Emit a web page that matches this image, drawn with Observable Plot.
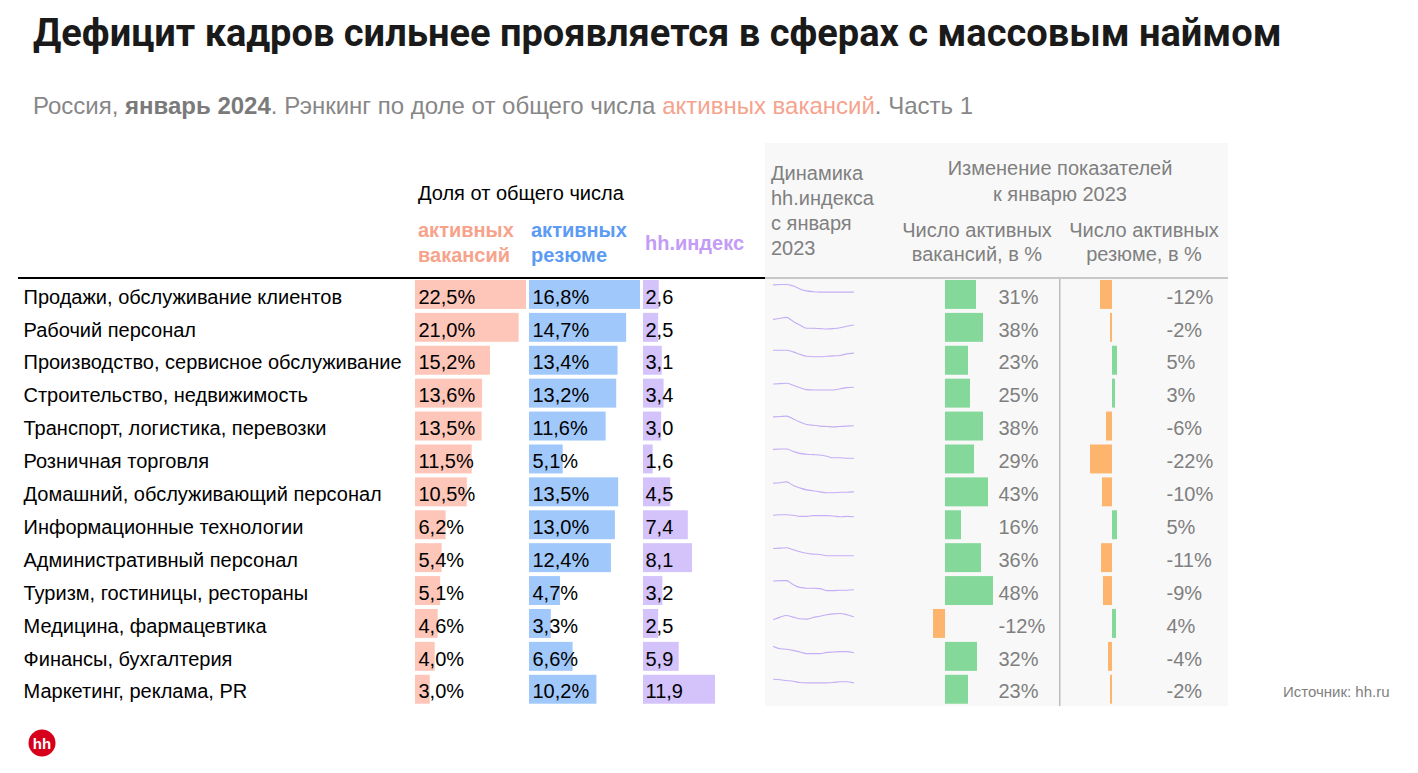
<!DOCTYPE html>
<html><head><meta charset="utf-8">
<script src="https://cdn.jsdelivr.net/npm/d3@7"></script>
<script src="https://cdn.jsdelivr.net/npm/@observablehq/plot@0.6"></script>
<style>
body{margin:0;background:#fff;}
#root{position:relative;width:1418px;height:773px;overflow:hidden;background:#fff;font-family:"Liberation Sans",Arial,sans-serif;}
#title{position:absolute;left:33px;top:14px;font-family:Roboto,sans-serif;font-weight:700;font-size:38px;line-height:38px;color:#1a1a1a;white-space:nowrap;}
#subtitle{position:absolute;left:33px;top:94px;font-size:24px;line-height:24px;color:#878787;white-space:nowrap;}
#subtitle b{color:#7a7a7a;}
#subtitle .hl{color:#f5a38d;}
#panel{position:absolute;left:765px;top:143px;width:463px;height:563px;background:#f8f8f8;}
.layer{position:absolute;left:0;top:0;}
</style></head><body>
<div id="root">
  <div id="title">Дефицит кадров сильнее проявляется в сферах с массовым наймом</div>
  <div id="subtitle">Россия, <b>январь 2024</b>. Рэнкинг по доле от общего числа <span class="hl">активных вакансий</span>. Часть 1</div>
  <div id="panel"></div>
</div>
<script>
// ---- data ----
const categories = [
  "Продажи, обслуживание клиентов",
  "Рабочий персонал",
  "Производство, сервисное обслуживание",
  "Строительство, недвижимость",
  "Транспорт, логистика, перевозки",
  "Розничная торговля",
  "Домашний, обслуживающий персонал",
  "Информационные технологии",
  "Административный персонал",
  "Туризм, гостиницы, рестораны",
  "Медицина, фармацевтика",
  "Финансы, бухгалтерия",
  "Маркетинг, реклама, PR"
];
const vacancyShare = [22.5, 21.0, 15.2, 13.6, 13.5, 11.5, 10.5, 6.2, 5.4, 5.1, 4.6, 4.0, 3.0];
const resumeShare  = [16.8, 14.7, 13.4, 13.2, 11.6, 5.1, 13.5, 13.0, 12.4, 4.7, 3.3, 6.6, 10.2];
const hhIndex      = [2.6, 2.5, 3.1, 3.4, 3.0, 1.6, 4.5, 7.4, 8.1, 3.2, 2.5, 5.9, 11.9];
const vacancyChange = [31, 38, 23, 25, 38, 29, 43, 16, 36, 48, -12, 32, 23];
const resumeChange  = [-12, -2, 5, 3, -6, -22, -10, 5, -11, -9, 4, -4, -2];
const months = ["2023-01-01","2023-02-01","2023-03-01","2023-04-01","2023-05-01","2023-06-01","2023-07-01",
                "2023-08-01","2023-09-01","2023-10-01","2023-11-01","2023-12-01","2024-01-01"];
const hhTrend = [
  [4.4,4.5,4.5,4.1,3.4,2.9,2.7,2.6,2.6,2.6,2.6,2.6,2.6],
  [3.9,4.2,4.4,3.4,2.5,1.7,1.7,1.6,1.5,1.6,1.8,2.2,2.5],
  [3.8,3.8,3.8,3.4,2.8,2.3,2.2,2.2,2.3,2.4,2.5,2.9,3.1],
  [4.2,4.3,4.4,3.9,3.3,2.8,2.7,2.7,2.7,2.7,3.0,3.3,3.4],
  [5.2,5.3,5.4,4.7,3.9,3.3,3.1,2.9,2.8,2.7,2.8,2.9,3.0],
  [3.8,3.9,3.9,3.3,2.8,2.6,2.5,2.4,2.1,1.7,1.7,1.6,1.6],
  [6.7,6.8,7.0,6.1,5.5,5.0,4.8,4.5,4.3,4.3,4.4,4.4,4.5],
  [7.8,7.9,7.9,7.8,7.5,7.5,7.7,7.7,7.7,7.6,7.4,7.5,7.4],
  [9.9,10.0,10.1,9.6,9.1,8.7,8.5,8.4,8.1,8.1,8.1,8.1,8.1],
  [5.4,5.5,5.5,4.5,3.8,3.6,3.6,3.5,3.0,3.0,3.1,3.1,3.2],
  [1.8,2.4,2.8,2.4,2.0,1.9,2.3,2.6,3.0,3.2,3.3,3.0,2.5],
  [7.5,6.9,6.8,6.5,6.1,5.7,5.7,5.7,6.0,6.1,6.2,6.2,5.9],
  [12.8,12.7,12.5,12.3,12.0,11.9,11.9,11.9,11.9,12.0,12.2,12.2,11.9]
];

// ---- layout ----
const root = document.getElementById("root");
const W = 1418, H = 773, TOP = 278, STEP = 32.9, N = categories.length;
const BOTTOM = H - (TOP + STEP * N);
const FONT = "'Liberation Sans', Arial, sans-serif";
const FS = 20, DY = 2.3;
const rows = categories.map((c, i) => ({c, vac: vacancyShare[i], res: resumeShare[i], hh: hhIndex[i], dv: vacancyChange[i], dr: resumeChange[i]}));
const yBand = {domain: categories, paddingInner: 0.12, paddingOuter: 0.06, round: false, axis: null};
const fmt1 = v => v.toFixed(1).replace(".", ",");

function addPlot(opts) {
  const el = Plot.plot({width: W, height: H, style: {background: "transparent", fontFamily: FONT, overflow: "visible"}, ...opts});
  el.classList.add("layer");
  el.style.position = "absolute"; el.style.left = "0"; el.style.top = "0"; el.style.maxWidth = "none";
  root.appendChild(el);
}

// decorations (headers, lines, source, logo)
const deco = d3.select(root).append("svg").attr("class", "layer").attr("width", W).attr("height", H)
  .style("position", "absolute").style("left", 0).style("top", 0).style("font-family", FONT);
deco.append("rect").attr("x", 18).attr("y", 277).attr("width", 747).attr("height", 2).attr("fill", "#000");
deco.append("rect").attr("x", 765).attr("y", 277).attr("width", 463).attr("height", 2).attr("fill", "#c8c8c8");
deco.append("rect").attr("x", 1059).attr("y", 279).attr("width", 1.5).attr("height", 427).attr("fill", "#bdbdbd");
function txt(x, y, s, o = {}) {
  deco.append("text").attr("x", x).attr("y", y).text(s)
    .attr("font-size", o.size || FS).attr("fill", o.fill || "#000")
    .attr("font-weight", o.weight || "normal").attr("text-anchor", o.anchor || "start");
}
txt(418, 200, "Доля от общего числа");
txt(418, 237, "активных", {fill: "#f7a38c", weight: "bold"});
txt(418, 262, "вакансий", {fill: "#f7a38c", weight: "bold"});
txt(531, 237, "активных", {fill: "#5c9bf4", weight: "bold"});
txt(531, 262, "резюме", {fill: "#5c9bf4", weight: "bold"});
txt(645, 250, "hh.индекс", {fill: "#c39cf6", weight: "bold"});
const G = "#808080";
txt(771, 179.5, "Динамика", {fill: G});
txt(771, 204.5, "hh.индекса", {fill: G});
txt(771, 229.5, "с января", {fill: G});
txt(771, 254.5, "2023", {fill: G});
txt(1060, 174.5, "Изменение показателей", {fill: G, anchor: "middle"});
txt(1060, 200.5, "к январю 2023", {fill: G, anchor: "middle"});
txt(977, 237, "Число активных", {fill: G, anchor: "middle"});
txt(977, 260.5, "вакансий, в %", {fill: G, anchor: "middle"});
txt(1144, 237, "Число активных", {fill: G, anchor: "middle"});
txt(1144, 260.5, "резюме, в %", {fill: G, anchor: "middle"});
txt(1283, 696.5, "Источник: hh.ru", {fill: "#7f7f7f", size: 15});
deco.append("circle").attr("cx", 42).attr("cy", 743).attr("r", 13.5).attr("fill", "#d6001c");
txt(42, 748.5, "hh", {fill: "#fff", weight: "bold", size: 15, anchor: "middle"});

// ---- row labels ----
addPlot({
  marginLeft: 23, marginRight: W - 410, marginTop: TOP, marginBottom: BOTTOM, y: yBand,
  marks: [Plot.text(rows, {y: "c", text: "c", frameAnchor: "left", textAnchor: "start", fontSize: FS, fill: "#000", dy: DY})]
});

// ---- share columns ----
function shareColumn(key, left, right, fill, fmt, dx) {
  addPlot({
    marginLeft: left, marginRight: W - right, marginTop: TOP, marginBottom: BOTTOM,
    x: {domain: [0, d3.max(rows, d => d[key])], axis: null}, y: yBand,
    marks: [
      Plot.barX(rows, {x: key, y: "c", fill}),
      Plot.text(rows, {y: "c", text: d => fmt(d[key]), frameAnchor: "left", textAnchor: "start", dx, dy: DY, fontSize: FS, fill: "#000"})
    ]
  });
}
shareColumn("vac", 415, 526, "#fdc6b9", v => fmt1(v) + "%", 3);
shareColumn("res", 529, 640, "#a1c8fb", v => fmt1(v) + "%", 3);
shareColumn("hh", 643, 715, "#d4c2fb", v => fmt1(v), 2);

// ---- change columns ----
function changeColumn(key, left, right, labelDx) {
  addPlot({
    marginLeft: left, marginRight: W - right, marginTop: TOP, marginBottom: BOTTOM,
    x: {domain: d3.extent(rows, d => d[key]), axis: null}, y: yBand,
    marks: [
      Plot.barX(rows, {x: key, y: "c", fill: d => d[key] >= 0 ? "#84d99a" : "#fdb56e"}),
      Plot.text(rows, {y: "c", text: d => d[key] + "%", frameAnchor: "right", textAnchor: "start", dx: labelDx, dy: DY, fontSize: FS, fill: "#7f7f7f"})
    ]
  });
}
changeColumn("dv", 933, 993, 5);
changeColumn("dr", 1090, 1117, 49);

// ---- sparklines ----
const monthDates = months.map(m => new Date(m));
hhTrend.forEach((series, i) => {
  const top = TOP + STEP * i + 6;
  const mx = d3.max(series);
  addPlot({
    marginLeft: 773, marginRight: W - 853, marginTop: top, marginBottom: H - top - 14,
    x: {type: "utc", domain: d3.extent(monthDates), axis: null},
    y: {domain: [mx - 3.5, mx], axis: null},
    marks: [Plot.line(series.map((v, j) => ({m: monthDates[j], v})), {x: "m", y: "v", stroke: "#c4aef5", strokeWidth: 1.1, curve: "monotone-x"})]
  });
});
</script>
</body></html>
